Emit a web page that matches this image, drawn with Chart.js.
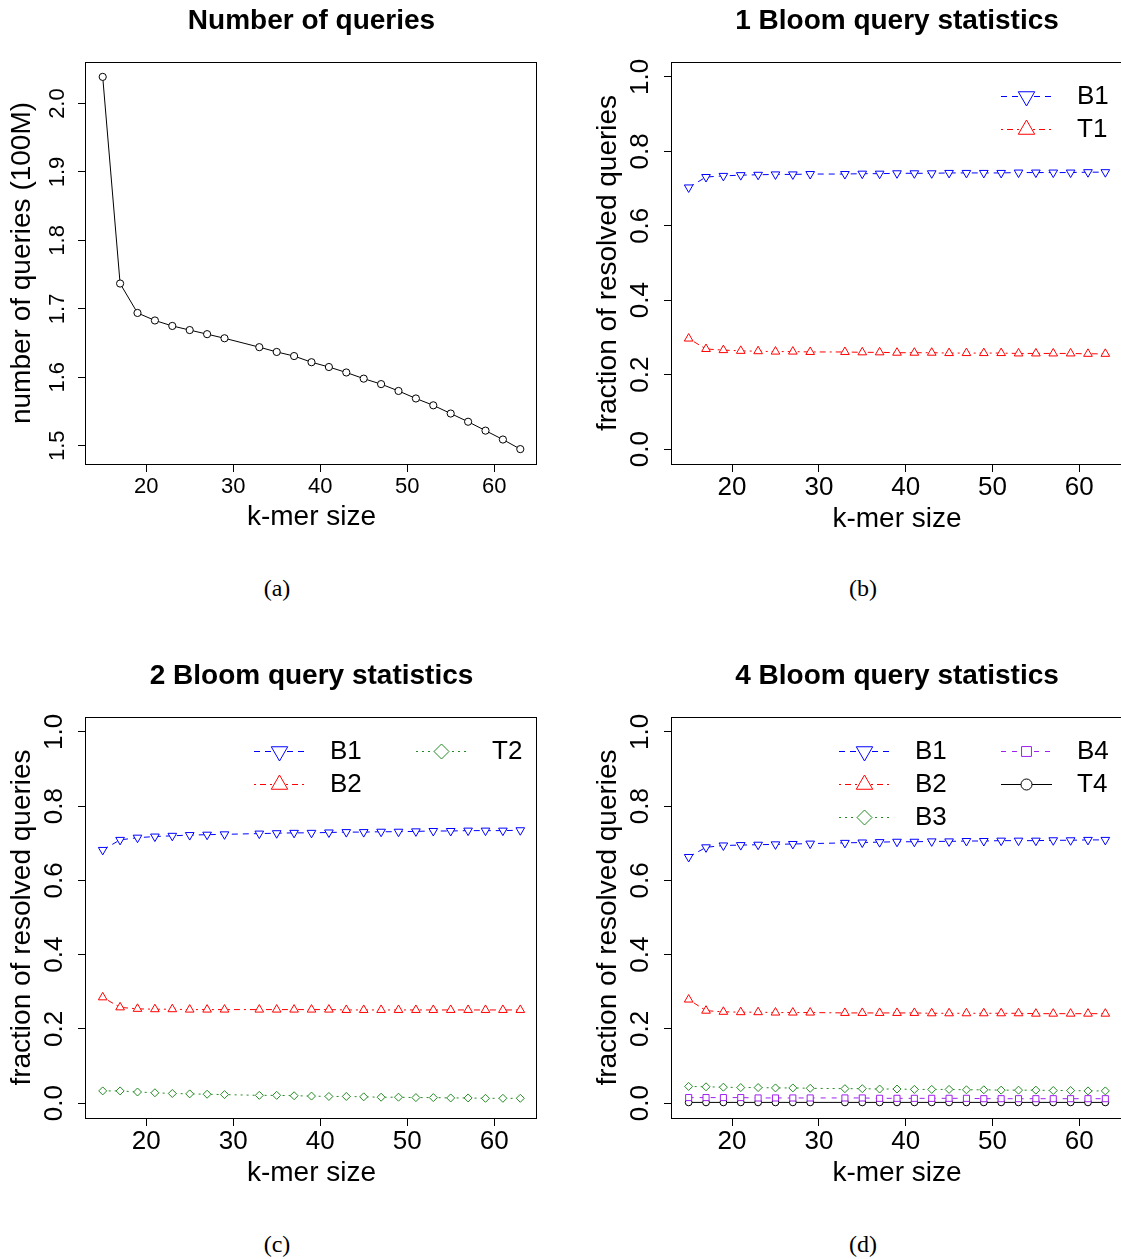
<!DOCTYPE html>
<html>
<head>
<meta charset="utf-8">
<script src="https://cdn.jsdelivr.net/npm/chart.js@4.4.1/dist/chart.umd.min.js"></script>
<style>
html,body{margin:0;padding:0;background:#fff;overflow:hidden;width:1121px;height:1259px;}
body{position:relative;}
.panel{position:absolute;}
.panel canvas{display:block;}
.cap{position:absolute;font-family:"Liberation Serif","DejaVu Serif",serif;font-size:24px;color:#000;transform:translate(-50%,-50%);white-space:nowrap;}
</style>
</head>
<body>
<div class="panel" style="left:0px;top:0px;"><canvas id="ca" width="623" height="560"></canvas></div>
<div class="panel" style="left:586px;top:0px;"><canvas id="cb" width="622" height="560"></canvas></div>
<div class="panel" style="left:0px;top:655px;"><canvas id="cc" width="623" height="560"></canvas></div>
<div class="panel" style="left:586px;top:655px;"><canvas id="cd" width="622" height="560"></canvas></div>
<div class="cap" style="left:277px;top:588px;">(a)</div>
<div class="cap" style="left:863px;top:588px;">(b)</div>
<div class="cap" style="left:277px;top:1244px;">(c)</div>
<div class="cap" style="left:863px;top:1244px;">(d)</div>
<script>
// ---------------- data ----------------
const kmers = [15,17,19,21,23,25,27,29,33,35,37,39,41,43,45,47,49,51,53,55,57,59,61,63];

// (a) number of queries (100M)
const queries = [2.039,1.737,1.694,1.683,1.675,1.669,1.663,1.657,1.644,1.637,1.631,1.622,1.615,1.607,1.598,1.590,1.580,1.569,1.559,1.547,1.535,1.522,1.509,1.495];

// (b) 1 Bloom
const b1_one = [0.703,0.731,0.734,0.736,0.737,0.738,0.738,0.739,0.739,0.740,0.740,0.741,0.741,0.741,0.742,0.742,0.742,0.742,0.743,0.743,0.743,0.743,0.744,0.744];
const t1_one = [0.297,0.269,0.266,0.264,0.263,0.262,0.262,0.261,0.261,0.260,0.260,0.259,0.259,0.259,0.258,0.258,0.258,0.258,0.257,0.257,0.257,0.257,0.256,0.256];

// (c) 2 Bloom
const b1_two = [0.682,0.709,0.715,0.718,0.720,0.722,0.723,0.724,0.726,0.727,0.728,0.728,0.729,0.730,0.730,0.731,0.731,0.732,0.733,0.733,0.734,0.734,0.734,0.735];
const b2_two = [0.285,0.258,0.254,0.253,0.253,0.252,0.252,0.252,0.252,0.252,0.252,0.252,0.252,0.251,0.251,0.251,0.251,0.251,0.251,0.251,0.251,0.251,0.251,0.251];
const t2_two = [0.033,0.033,0.030,0.028,0.026,0.025,0.024,0.023,0.021,0.021,0.020,0.019,0.018,0.018,0.017,0.016,0.016,0.015,0.015,0.014,0.014,0.013,0.013,0.013];

// (d) 4 Bloom
const b1_four = [0.663,0.689,0.694,0.695,0.696,0.697,0.698,0.699,0.701,0.702,0.703,0.704,0.704,0.705,0.705,0.706,0.706,0.707,0.707,0.707,0.708,0.708,0.709,0.709];
const b2_four = [0.279,0.249,0.246,0.245,0.245,0.244,0.244,0.244,0.243,0.243,0.243,0.243,0.243,0.242,0.242,0.242,0.242,0.242,0.242,0.241,0.241,0.241,0.241,0.241];
const b3_four = [0.045,0.044,0.043,0.042,0.042,0.041,0.041,0.040,0.039,0.039,0.038,0.038,0.037,0.037,0.037,0.036,0.036,0.035,0.035,0.035,0.034,0.034,0.033,0.033];
const b4_four = [0.015,0.015,0.015,0.015,0.014,0.014,0.014,0.014,0.014,0.014,0.013,0.013,0.013,0.013,0.013,0.013,0.012,0.012,0.012,0.012,0.012,0.012,0.012,0.012];
const t4_four = [0.002,0.002,0.002,0.002,0.002,0.002,0.002,0.002,0.002,0.002,0.002,0.002,0.002,0.002,0.002,0.002,0.002,0.002,0.002,0.002,0.002,0.002,0.002,0.002];

// ticks & labels
const xTicks = [20,30,40,50,60];
const yTicksQueries = [1.5,1.6,1.7,1.8,1.9,2.0];
const yTicksFraction = [0.0,0.2,0.4,0.6,0.8,1.0];
const fracLimits = [0,1];
const panelTitles = ["Number of queries","1 Bloom query statistics","2 Bloom query statistics","4 Bloom query statistics"];
const xTitle = "k-mer size";
const yTitleQueries = "number of queries (100M)";
const yTitleFraction = "fraction of resolved queries";

// ---------------- styles ----------------
const FONT = "'Liberation Sans', Arial, Helvetica, sans-serif";
const STYLE = {
  Q:  {color:'#000000', dash:[],          point:'circle',   rot:0,   r:3.6, lr:5.5},
  B1: {color:'#0000FF', dash:[6,5],       point:'triangle', rot:180, r:5.0, lr:9.5},
  T1: {color:'#FF0000', dash:[2,4,6,4],   point:'triangle', rot:0,   r:5.0, lr:9.5},
  B2: {color:'#FF0000', dash:[2,4,6,4],   point:'triangle', rot:0,   r:5.0, lr:9.5},
  T2: {color:'#228B22', dash:[2,4],       point:'rectRot',  rot:0,   r:4.0, lr:7.5},
  B3: {color:'#228B22', dash:[2,4],       point:'rectRot',  rot:0,   r:4.0, lr:7.5},
  B4: {color:'#A020F0', dash:[5,6],       point:'rect',     rot:0,   r:4.3, lr:7.0},
  T4: {color:'#000000', dash:[],          point:'circle',   rot:0,   r:3.4, lr:5.5}
};

function pts(ys){ return kmers.map((k,i)=>({x:k, y:ys[i]})); }
function padRange(lo, hi){ const d = (hi-lo)*0.04; return [lo-d, hi+d]; }

function ds(label, key, ys){
  const s = STYLE[key];
  return {
    label: label, data: pts(ys), styleKey: key,
    borderColor: s.color, borderDash: s.dash, borderWidth: 1, tension: 0, fill: false,
    pointStyle: s.point, pointRotation: s.rot, pointRadius: s.r, pointHoverRadius: s.r,
    pointBorderColor: s.color, pointBackgroundColor: '#ffffff', pointBorderWidth: 1
  };
}

// ---------------- plugins ----------------
const boxPlugin = {
  id: 'rbox',
  afterDraw(chart){
    const {ctx, chartArea:a} = chart;
    ctx.save();
    ctx.strokeStyle = '#000'; ctx.lineWidth = 1; ctx.setLineDash([]);
    ctx.strokeRect(Math.round(a.left)-0.5, Math.round(a.top)+0.5, Math.round(a.right-a.left), Math.round(a.bottom-a.top));
    ctx.restore();
  }
};

const legendPlugin = {
  id: 'rlegend',
  afterDraw(chart, args, opts){
    if (!opts || !opts.cols) return;
    const {ctx, chartArea:a} = chart;
    const sets = chart.data.datasets;
    const rows = Math.ceil(sets.length / opts.cols);
    sets.forEach((d, i) => {
      const s = STYLE[d.styleKey];
      const col = Math.floor(i / rows), row = i % rows;
      const x0 = Math.round(a.right) - 121 - (opts.cols - 1 - col) * 162;
      const y = Math.round(a.top) + 34 + row * 33;
      ctx.save();
      ctx.strokeStyle = s.color; ctx.lineWidth = 1; ctx.setLineDash(s.dash);
      ctx.beginPath(); ctx.moveTo(x0, y + 0.5); ctx.lineTo(x0 + 51, y + 0.5); ctx.stroke();
      ctx.setLineDash([]);
      ctx.fillStyle = '#ffffff';
      Chart.helpers.drawPoint(ctx, {pointStyle: s.point, rotation: s.rot, radius: s.lr, borderWidth: 1}, x0 + 25.5, y + 0.5);
      ctx.fillStyle = '#000';
      ctx.font = '26px ' + FONT;
      ctx.textAlign = 'left'; ctx.textBaseline = 'middle';
      ctx.fillText(d.label, x0 + 76, y + 1);
      ctx.restore();
    });
  }
};

// ---------------- chart builder ----------------
function makeChart(id, title, datasets, yRange, yTicks, yTitle, tickFont, xPad, xH, padBottom, legendCols){
  const xr = padRange(Math.min(...kmers), Math.max(...kmers));
  return new Chart(document.getElementById(id), {
    type: 'line',
    data: { datasets: datasets },
    plugins: [boxPlugin, legendPlugin],
    options: {
      responsive: false, animation: false, devicePixelRatio: 1, events: [],
      layout: { padding: { left: 0, right: 0, top: 0, bottom: padBottom } },
      plugins: {
        legend: { display: false },
        tooltip: { enabled: false },
        title: { display: true, text: title, color: '#000',
                 font: { family: FONT, size: 28, weight: 'bold', lineHeight: 1.2 },
                 padding: { top: 4, bottom: 24.4 } },
        rlegend: { cols: legendCols }
      },
      scales: {
        x: {
          type: 'linear', min: xr[0], max: xr[1],
          afterBuildTicks: s => { s.ticks = xTicks.map(v => ({value: v})); },
          afterFit: s => { s.height = xH; },
          grid: { display: true, drawOnChartArea: false, drawTicks: true, tickLength: 8, color: '#000', lineWidth: 1 },
          border: { display: false },
          ticks: { color: '#000', font: { family: FONT, size: tickFont, lineHeight: 1.2 }, padding: xPad,
                   autoSkip: false, maxRotation: 0, minRotation: 0, callback: v => String(v) },
          title: { display: true, text: xTitle, color: '#000', font: { family: FONT, size: 28, lineHeight: 1.2 },
                   padding: { top: 0, bottom: 0 } }
        },
        y: {
          type: 'linear', position: 'left', min: yRange[0], max: yRange[1],
          afterBuildTicks: s => { s.ticks = yTicks.map(v => ({value: v})); },
          afterFit: s => { s.width = 86; },
          grid: { display: true, drawOnChartArea: false, drawTicks: true, tickLength: 8, color: '#000', lineWidth: 1 },
          border: { display: false },
          ticks: { color: '#000', font: { family: FONT, size: tickFont, lineHeight: 1.2 }, padding: 5,
                   autoSkip: false, minRotation: 90, maxRotation: 90, crossAlign: 'center',
                   callback: v => Number(v).toFixed(1) },
          title: { display: true, text: yTitle, color: '#000', font: { family: FONT, size: 28, lineHeight: 1.2 },
                   padding: { top: 5, bottom: 0 } }
        },
        yMargin: {
          type: 'linear', position: 'right', min: yRange[0], max: yRange[1],
          afterFit: s => { s.width = 86; },
          grid: { display: false }, border: { display: false },
          ticks: { display: false }, title: { display: false }
        }
      }
    }
  });
}

const qRange = padRange(Math.min(...queries), Math.max(...queries));
const fRange = padRange(fracLimits[0], fracLimits[1]);

makeChart('ca', panelTitles[0], [ds('queries','Q',queries)], qRange, yTicksQueries, yTitleQueries, 22, 2, 70, 26, 0);
makeChart('cb', panelTitles[1], [ds('B1','B1',b1_one), ds('T1','T1',t1_one)], fRange, yTicksFraction, yTitleFraction, 26, 0, 72, 24, 1);
makeChart('cc', panelTitles[2], [ds('B1','B1',b1_two), ds('B2','B2',b2_two), ds('T2','T2',t2_two)], fRange, yTicksFraction, yTitleFraction, 26, 0, 72, 25, 2);
makeChart('cd', panelTitles[3], [ds('B1','B1',b1_four), ds('B2','B2',b2_four), ds('B3','B3',b3_four), ds('B4','B4',b4_four), ds('T4','T4',t4_four)], fRange, yTicksFraction, yTitleFraction, 26, 0, 72, 25, 2);
</script>
</body>
</html>
